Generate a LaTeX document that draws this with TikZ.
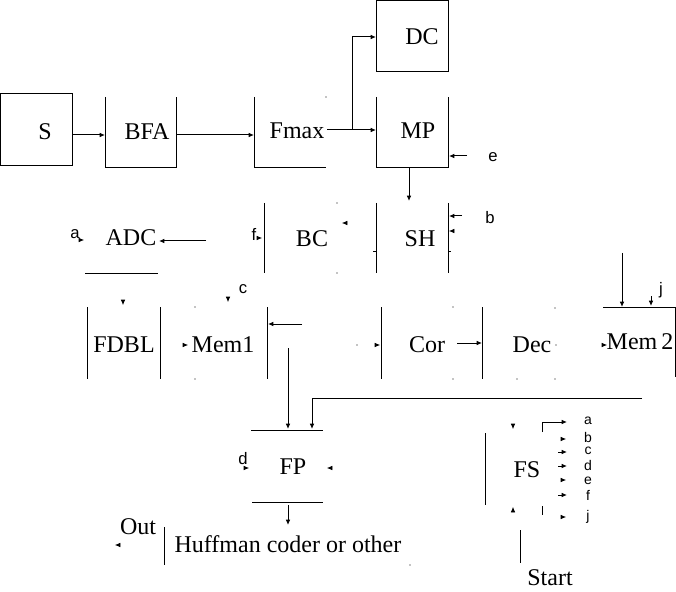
\documentclass[tikz,border=0pt]{standalone}
\usepackage{fontspec}
\setmainfont{Liberation Serif}
\newfontfamily\lsans{Liberation Sans}
\usetikzlibrary{arrows.meta}
\begin{document}
\begin{tikzpicture}[x=0.75pt,y=-0.75pt,
  lbl/.style={font=\fontsize{18}{20}\selectfont, inner sep=0pt},
  sl/.style={font=\lsans\fontsize{12.5}{13}\selectfont, inner sep=0pt},
  stk/.style={font=\lsans\fontsize{10.5}{11}\selectfont, inner sep=0pt},
  ln/.style={line width=0.75pt},
  arr/.style={ln, -{Latex[length=4pt,width=3.5pt]}},
  tipo/.style={line width=0.5pt, -{Latex[length=4pt,width=3.5pt]}},
  dotm/.style={fill=black}]
\useasboundingbox (0,0) rectangle (676,592);
% ---------- row 1
\draw[ln] (0.5,94) rectangle (72,166);
\node[lbl] (S) at (45,132) {S};
\draw[ln] (105,97) -- (105,168) -- (176,168) -- (176,97);
\node[lbl] (BFA) at (147,132) {BFA};
\coordinate (s-out) at (72,135); \coordinate (bfa-in) at (105,135);
\draw[arr] (s-out) -- (bfa-in);
\coordinate (bfa-out) at (176,135); \coordinate (fmax-in) at (254,135);
\draw[arr] (bfa-out) -- (fmax-in);
\draw[ln] (254,97) -- (254,168) -- (326,168);
\fill[dotm] (326,97) circle (0.7);
\node[lbl] (Fmax) at (297,131) {Fmax};
\coordinate (fmax-out) at (327,130); \coordinate (br) at (352,130); \coordinate (mp-in) at (376,130);
\draw[arr] (fmax-out) -- (mp-in);
\coordinate (dc-in) at (376,37);
\draw[arr] (br) |- (dc-in);
\draw[ln] (376,1) rectangle (448,72);
\node[lbl] (DC) at (422,37) {DC};
\draw[ln] (376,97) -- (376,168) -- (448,168) -- (448,97);
\node[lbl] (MP) at (418,131) {MP};
\node[sl] (e) at (493,157) {e};
\coordinate (e-s) at (467,156); \coordinate (mp-e) at (449,156);
\draw[arr] (e-s) -- (mp-e);
\coordinate (mp-out) at (409,168); \coordinate (sh-in) at (409,201);
\draw[arr] (mp-out) -- (sh-in);
% ---------- row 2
\draw[ln] (376,203) -- (376,273) (373,252) -- (376,252);
\draw[ln] (448,203) -- (448,273) (448,252) -- (451,252);
\node[lbl] (SH) at (420,239) {SH};
\node[sl] (b) at (490,218) {b};
\coordinate (b-s) at (462,216); \coordinate (sh-b) at (449,216);
\draw[arr] (b-s) -- (sh-b);
\draw[tipo] (454,231) -- (449,231);
\draw[ln] (264,203) -- (264,273);
\node[lbl] (BC) at (312,239) {BC};
\draw[tipo] (347,223) -- (342,223);
\fill[dotm] (337,203) circle (0.7) (337,273) circle (0.7);
\node[sl] (f) at (254,234) {f};
\draw[tipo] (257,238) -- (262,238);
\node[lbl] (ADC) at (131,238) {ADC};
\coordinate (adc-s) at (206,241); \coordinate (adc-in) at (159,241);
\draw[arr] (adc-s) -- (adc-in);
\node[sl] (a) at (75,234) {a};
\draw[tipo] (79,240) -- (84,240);
\draw[ln] (85,274) -- (158,274);
% ---------- row 3
\draw[tipo] (123,300) -- (123,305);
\draw[ln] (87,307) -- (87,379) (160,307) -- (160,379);
\node[lbl] (FDBL) at (124,345) {FDBL};
\draw[tipo] (183,345) -- (188,345);
\node[lbl] (Mem1) at (223,345) {Mem1};
\draw[ln] (267,307) -- (267,379);
\fill[dotm] (195,307) circle (0.7) (195,379) circle (0.7);
\draw[tipo] (228,297) -- (228,302);
\node[sl] (c) at (243,289) {c};
\coordinate (m1-s) at (302,324); \coordinate (m1-in) at (268,324);
\draw[arr] (m1-s) -- (m1-in);
\coordinate (v1) at (288,348); \coordinate (fp-in1) at (288,429);
\draw[arr] (v1) -- (fp-in1);
\fill[dotm] (357,345) circle (0.7);
\draw[tipo] (375,345) -- (380,345);
\draw[ln] (381,307) -- (381,379) (482,307) -- (482,379);
\node[lbl] (Cor) at (427,345) {Cor};
\coordinate (cor-out) at (457,343); \coordinate (dec-in) at (482,343);
\draw[arr] (cor-out) -- (dec-in);
\fill[dotm] (453,307) circle (0.7) (453,379) circle (0.7);
\node[lbl] (Dec) at (532,345) {Dec};
\fill[dotm] (555,308) circle (0.7) (555,379) circle (0.7) (517,379) circle (0.7) (556,345) circle (0.7);
\draw[tipo] (602,345) -- (607,345);
\node[lbl] (Mem2) at (640,342) {Mem\,2};
\draw[ln] (603,307) -- (675,307) -- (675,377);
\coordinate (m2-s) at (622,253); \coordinate (m2-in) at (622,307);
\draw[arr] (m2-s) -- (m2-in);
\coordinate (j-s) at (651,296); \coordinate (m2-j) at (651,306);
\draw[arr] (j-s) -- (m2-j);
\node[sl] (j) at (661,290) {j};
\coordinate (long-s) at (642,398); \coordinate (fp-in2) at (312,429);
\draw[arr] (long-s) -| (fp-in2);
% ---------- row 4
\draw[ln] (251,430) -- (323,430) (252,502) -- (323,502);
\node[lbl] (FP) at (293,467) {FP};
\node[sl] (d) at (243,459) {d};
\draw[tipo] (244,468) -- (249,468);
\draw[tipo] (332,468) -- (327,468);
\coordinate (fp-out) at (288,505); \coordinate (hc-in) at (288,525);
\draw[arr] (fp-out) -- (hc-in);
\node[lbl] (HC) at (288,544) {Huffman coder or other};
\draw[ln] (164,527) -- (164,565);
\fill[dotm] (410,565) circle (0.7);
\node[lbl] (Out) at (138,527) {Out};
\draw[tipo] (120,545) -- (115,545);
% ---------- FS
\draw[ln] (485,433) -- (485,505);
\node[lbl] (FS) at (527,470) {FS};
\draw[tipo] (513,424) -- (513,429);
\draw[tipo] (513,512) -- (513,507);
\coordinate (fs-a0) at (542,432); \coordinate (fs-a) at (567,422);
\draw[arr] (fs-a0) |- (fs-a);
\draw[ln] (542,506) -- (542,515);
\draw[tipo] (561,439) -- (566,439);
\draw[arr] (558,452) -- (567,452);
\draw[arr] (558,466) -- (567,466);
\draw[tipo] (561,480) -- (566,480);
\draw[arr] (558,495) -- (567,495);
\draw[tipo] (561,517) -- (566,517);
\node[stk] (la) at (588,421) {a};
\node[stk] (lb) at (588,437) {b};
\node[stk] (lc) at (588,451) {c};
\node[stk] (ld) at (588,465) {d};
\node[stk] (le) at (588,481) {e};
\node[stk] (lf) at (588,495) {f};
\node[stk] (lj) at (588,517) {j};
\draw[ln] (520,530) -- (520,563);
\node[lbl] (Start) at (550,578) {Start};
\end{tikzpicture}
\end{document}
